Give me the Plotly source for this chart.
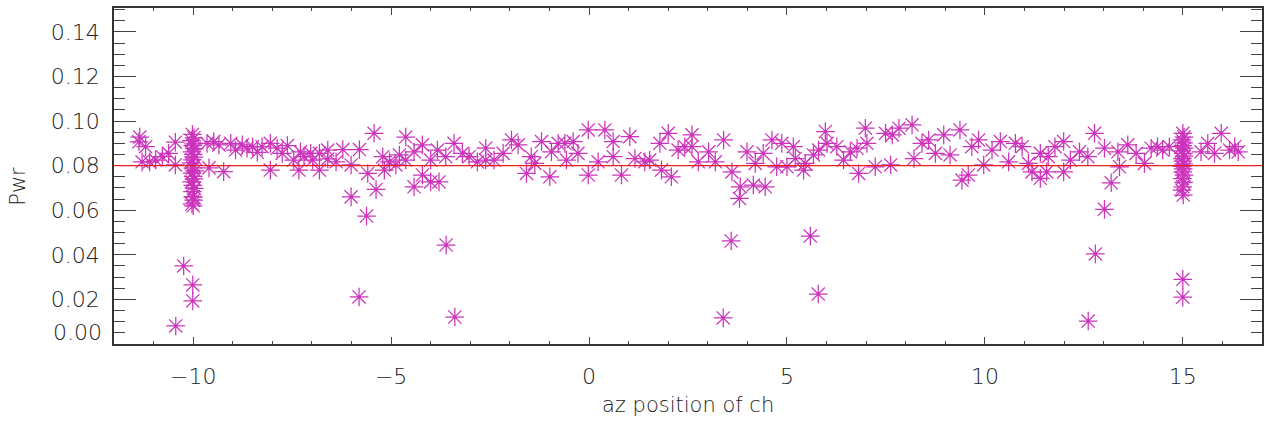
import plotly.graph_objects as go

# ---- data (az position of ch, Pwr) ----
x_left = [-11.37, -11.35, -11.2, -11.29, -11.1, -10.95, -10.78, -10.62, -10.45, -10.45,
          -9.65, -9.48, -9.6, -9.23, -9.35, -9.05, -8.93, -8.76, -8.64, -8.5, -8.38, -8.26,
          -8.05, -8.05, -7.88, -7.75, -7.62, -7.46, -7.33, -7.29, -7.2]
y_left = [0.0907, 0.0928, 0.0885, 0.0817, 0.0817, 0.0825, 0.084, 0.0855, 0.0803, 0.0905,
          0.0900, 0.0908, 0.079, 0.0773, 0.0893, 0.090, 0.087, 0.0893, 0.0878, 0.0885, 0.086, 0.0885,
          0.090, 0.078, 0.0878, 0.0855, 0.089, 0.0825, 0.078, 0.0862, 0.084]

x_cl1 = [-10.02, -9.98, -10.04, -9.99, -10.01, -9.97, -10.03, -10.0, -9.98, -10.02,
         -10.05, -9.99, -10.01, -9.96, -10.03, -10.0, -9.98, -10.04, -10.01, -9.97,
         -10.02, -10.0, -9.99, -10.03, -10.01, -10.0, -10.24, -10.01, -10.01, -10.44]
y_cl1 = [0.0940, 0.0925, 0.0912, 0.0898, 0.0890, 0.0876, 0.0862, 0.0851, 0.0838, 0.0826,
         0.0812, 0.0801, 0.0790, 0.0777, 0.0766, 0.0752, 0.0741, 0.0727, 0.0712, 0.0698,
         0.0684, 0.0660, 0.0645, 0.0628, 0.0660, 0.0620, 0.0350, 0.0265, 0.0193, 0.0081]

x_mid1 = [-7.03, -6.98, -6.81, -6.81, -6.6, -6.6, -6.39, -6.22, -6.01, -6.01, -5.8, -5.59,
          -5.43, -5.38, -5.62, -5.21, -5.17, -5.04, -4.88, -4.79, -4.63, -4.63, -4.42, -4.42,
          -4.21, -4.21, -4.0, -4.0, -3.83, -3.79, -3.62, -3.41, -3.2, -3.03, -2.82, -2.61,
          -2.61, -2.4, -5.81, -3.61, -3.39]
y_mid1 = [0.0855, 0.0825, 0.0855, 0.078, 0.087, 0.083, 0.0817, 0.0872, 0.0803, 0.066, 0.0872, 0.0765,
          0.0945, 0.0693, 0.0574, 0.084, 0.078, 0.0817, 0.0803, 0.0848, 0.0825, 0.0928, 0.0862, 0.0705,
          0.0893, 0.0758, 0.0825, 0.0727, 0.087, 0.0727, 0.084, 0.090, 0.0855, 0.084, 0.0817, 0.0878,
          0.0825, 0.0825, 0.0211, 0.0444, 0.0121]

x_mid2 = [-2.17, -1.96, -1.79, -1.58, -1.46, -1.37, -1.2, -0.99, -0.95, -0.78, -0.61, -0.57,
          -0.4, -0.28, -0.02, -0.02, 0.23, 0.4, 0.61, 0.61, 0.82, 1.03, 1.16, 1.41, 1.53,
          1.79, 1.83, 2.0, 2.08, 2.25, 2.42]
y_mid2 = [0.0855, 0.0915, 0.0893, 0.0765, 0.084, 0.081, 0.0908, 0.075, 0.0862, 0.090, 0.090, 0.0825,
          0.0908, 0.0855, 0.096, 0.0758, 0.0817, 0.096, 0.0908, 0.084, 0.0758, 0.093, 0.0832, 0.0817, 0.0825,
          0.090, 0.078, 0.0945, 0.075, 0.087, 0.0885]

x_mid3 = [2.6, 2.6, 2.76, 3.02, 3.19, 3.4, 3.61, 3.82, 3.8, 3.99, 4.15, 4.2, 4.4, 4.45, 4.62,
          4.74, 4.87, 5.0, 5.16, 5.21, 5.42, 5.46, 5.67, 5.8, 5.97, 6.01, 6.26, 6.43, 6.6,
          6.77, 6.81, 6.98, 7.02, 7.23, 3.59, 3.39, 5.59, 5.79]
y_mid3 = [0.0938, 0.0885, 0.0817, 0.0862, 0.0817, 0.0915, 0.0772, 0.0705, 0.0653, 0.0862, 0.0713, 0.081,
          0.0855, 0.0705, 0.0915, 0.0795, 0.090, 0.0795, 0.0885, 0.0832, 0.078, 0.081, 0.0848, 0.087,
          0.0953, 0.090, 0.0885, 0.0825, 0.0862, 0.0878, 0.0765, 0.0968, 0.090, 0.0795, 0.0462, 0.0117,
          0.0484, 0.0224]

x_mid4 = [7.49, 7.66, 7.83, 8.16, 8.21, 7.62, 8.41, 8.58, 8.75, 8.96, 9.12, 9.37, 9.42, 9.58,
          9.67, 9.84, 9.97, 10.18, 10.39, 10.6, 10.77, 10.94, 11.1, 11.19, 11.4, 11.4, 11.56,
          11.6, 11.77, 11.99, 11.99, 12.16]
y_mid4 = [0.0945, 0.0938, 0.0968, 0.0983, 0.0832, 0.0803, 0.090, 0.0915, 0.0855, 0.0938, 0.0848, 0.096,
          0.0735, 0.0758, 0.0885, 0.0915, 0.0803, 0.087, 0.0908, 0.0817, 0.090, 0.0885, 0.081, 0.0772,
          0.0743, 0.0855, 0.0772, 0.084, 0.0885, 0.0908, 0.0772, 0.0825]

x_right = [12.39, 12.6, 12.77, 13.02, 13.19, 13.36, 13.4, 13.61, 13.82, 14.03, 14.2, 14.36,
           14.49, 14.66, 15.46, 15.63, 15.8, 15.97, 16.18, 16.31, 16.4, 13.02, 12.79, 12.61]
y_right = [0.0862, 0.084, 0.0945, 0.0878, 0.0723, 0.0862, 0.0795, 0.0893, 0.0855, 0.081, 0.0878, 0.0885,
           0.087, 0.0885, 0.0862, 0.090, 0.0855, 0.0945, 0.087, 0.0885, 0.0862, 0.0604, 0.0404, 0.0103]

x_cl2 = [15.0, 15.03, 14.98, 15.02, 15.0, 15.04, 14.97, 15.01, 15.03, 14.99, 15.0, 15.02,
         14.98, 15.01, 15.0, 15.03, 14.99, 15.02, 15.0, 14.98, 15.01, 15.0, 15.0]
y_cl2 = [0.0945, 0.0928, 0.0915, 0.0902, 0.0890, 0.0878, 0.0866, 0.0855, 0.0843, 0.0832, 0.0820, 0.0808,
         0.0797, 0.0785, 0.0772, 0.0758, 0.0742, 0.0725, 0.0705, 0.0690, 0.0668, 0.0290, 0.0210]

x_all = x_left + x_cl1 + x_mid1 + x_mid2 + x_mid3 + x_mid4 + x_right + x_cl2
y_all = y_left + y_cl1 + y_mid1 + y_mid2 + y_mid3 + y_mid4 + y_right + y_cl2

ref_level = 0.08
y_tickvals = [0.0, 0.02, 0.04, 0.06, 0.08, 0.10, 0.12, 0.14]
y_ticktext = ["", "0.02", "0.04", "0.06", "0.08", "0.10", "0.12", "0.14"]
x_tickvals = [-10, -5, 0, 5, 10, 15]
x_ticktext = ["\u221210", "\u22125", "0", "5", "10", "15"]

MAG = "rgb(204,51,187)"
TXT = "#222222"
FONT = "DejaVu Sans"
FW = 200

fig = go.Figure()
fig.add_trace(go.Scatter(
    x=x_all, y=y_all, mode="markers",
    marker=dict(symbol="asterisk-open", size=15.5, color=MAG,
                line=dict(color=MAG, width=1.25)),
    showlegend=False, hoverinfo="skip"))

fig.add_shape(type="line", xref="paper", x0=0, x1=1, yref="y", y0=ref_level, y1=ref_level,
              line=dict(color="rgb(232,30,30)", width=1.3), layer="above")

fig.add_annotation(text="0.00", xref="paper", x=-0.0087, xanchor="right",
                   yref="y", y=0.005, yanchor="middle", showarrow=False,
                   font=dict(family=FONT, size=22, color=TXT, weight=FW))
fig.add_annotation(text="az position of ch", xref="paper", x=0.5, xanchor="center",
                   yref="paper", y=-0.181, yanchor="middle", showarrow=False,
                   font=dict(family=FONT, size=21, color=TXT, weight=FW))
fig.add_annotation(text="Pwr", xref="paper", x=-0.0836, xanchor="center",
                   yref="paper", y=0.468, yanchor="middle", showarrow=False, textangle=-90,
                   font=dict(family=FONT, size=21, color=TXT, weight=FW))

fig.update_layout(
    width=1264, height=422,
    margin=dict(l=114, r=2, t=8, b=78),
    paper_bgcolor="white", plot_bgcolor="white",
    font=dict(family=FONT, size=22, color=TXT, weight=FW),
)
fig.update_xaxes(
    range=[-12, 17], showgrid=False, zeroline=False, automargin=False,
    showline=True, linecolor="#333", linewidth=1.5, mirror="ticks",
    ticks="inside", ticklen=7, tickcolor="#444", tickwidth=1,
    tickmode="array", tickvals=x_tickvals, ticktext=x_ticktext,
    tickfont=dict(family=FONT, size=22, color=TXT, weight=FW),
    ticklabelstandoff=12,
    minor=dict(tickmode="linear", tick0=0, dtick=1, ticks="inside", ticklen=3.5, tickcolor="#444"),
)
fig.update_yaxes(
    range=[0, 0.1507], showgrid=False, zeroline=False, automargin=False,
    showline=True, linecolor="#333", linewidth=1.5, mirror="ticks",
    ticks="inside", ticklen=22, tickcolor="#444", tickwidth=1,
    tickmode="array", tickvals=y_tickvals, ticktext=y_ticktext,
    tickfont=dict(family=FONT, size=22, color=TXT, weight=FW),
    ticklabelstandoff=8,
    minor=dict(tickmode="linear", tick0=0, dtick=0.005, ticks="inside", ticklen=11, tickcolor="#444"),
)

fig.write_html("out.html", config={"displayModeBar": False},
               post_script="document.body.style.margin='0px';document.body.style.overflow='hidden';")
